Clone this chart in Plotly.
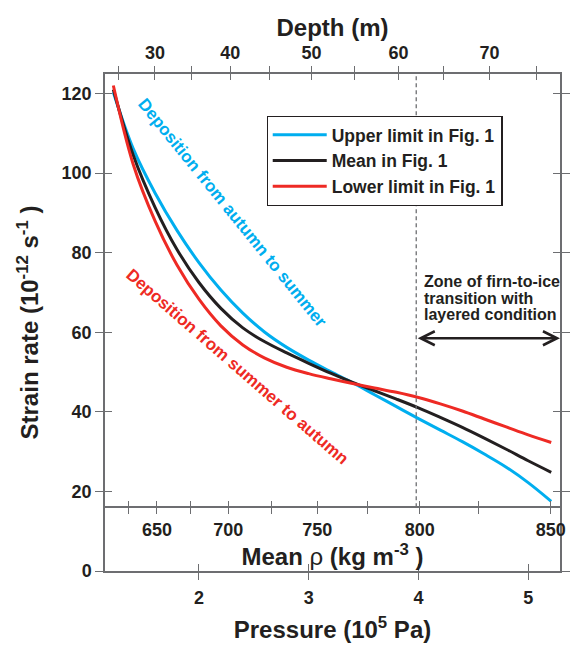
import plotly.graph_objects as go

# ---------------- data ----------------
pressure = [1.22, 1.40, 1.60, 1.80, 2.00, 2.20, 2.40, 2.60, 2.80, 3.00, 3.20,
            3.40, 3.60, 3.80, 4.00, 4.20, 4.40, 4.60, 4.80, 5.00, 5.21]
upper = [120.3, 106.2, 95.0, 85.6, 77.5, 70.6, 64.8, 60.0, 56.2, 53.0, 50.1,
         47.3, 44.3, 41.3, 38.3, 35.4, 32.5, 29.4, 26.1, 22.2, 17.5]
mean = [121.0, 104.6, 91.4, 80.8, 72.5, 66.0, 61.1, 57.6, 54.8, 52.2, 49.7,
        47.4, 45.3, 43.2, 41.0, 38.6, 36.1, 33.4, 30.6, 27.7, 24.8]
lower = [122.0, 102.3, 88.0, 76.9, 68.3, 61.6, 56.8, 53.5, 51.2, 49.6, 48.3,
         47.1, 46.0, 44.9, 43.6, 42.0, 40.2, 38.2, 36.2, 34.2, 32.3]

series_names = ["Upper limit in Fig. 1", "Mean in Fig. 1", "Lower limit in Fig. 1"]
series_colors = ["#00aeef", "#231f20", "#ee2a24"]

pressure_ticks = [2, 3, 4, 5]
strain_ticks = [0, 20, 40, 60, 80, 100, 120]

# secondary scales: depth (m) and mean density (kg m-3) expressed at pressure (1e5 Pa)
depth_ticks = [25, 30, 35, 40, 45, 50, 55, 60, 65, 70, 75]
depth_at_pressure = [1.269, 1.599, 1.929, 2.285, 2.642, 3.025, 3.417, 3.818, 4.228, 4.647, 5.075]
density_ticks = [625, 650, 675, 700, 725, 750, 775, 800, 825, 850]
density_at_pressure = [1.358, 1.617, 1.920, 2.267, 2.660, 3.078, 3.533, 4.012, 4.549, 5.206]

transition_pressure = 3.98   # start of firn-to-ice transition zone
arrow_level = 58.5

x_range = [1.144, 5.29]
y_range = [0, 124.9]
density_axis_level = 16.0

depth_labels = [str(d) if d % 10 == 0 else "" for d in depth_ticks]
density_labels = [str(d) if d % 50 == 0 else "" for d in density_ticks]

# ---------------- figure ----------------
fig = go.Figure()
for name, vals, col in zip(series_names, [upper, mean, lower], series_colors):
    fig.add_trace(go.Scatter(x=pressure, y=vals, mode="lines", name=name,
                             legendgroup="curves",
                             line=dict(color=col, width=3, shape="spline", smoothing=1.0)))

axcol = "#6d6e71"
txtcol = "#231f20"
FONT = "Liberation Sans, Arial, sans-serif"

common = dict(showgrid=False, zeroline=False, tickcolor=axcol, tickwidth=1.3)

fig.update_layout(
    width=577, height=646,
    margin=dict(l=105, r=7, t=74, b=74),
    plot_bgcolor="white", paper_bgcolor="white",
    font=dict(family=FONT, size=18, color=txtcol, weight="bold"),
    showlegend=True,
    legend=dict(x=0.355, y=0.916, xanchor="left", yanchor="top",
                bordercolor=txtcol, borderwidth=1.2, bgcolor="white",
                font=dict(size=17.5, color=txtcol, weight="bold"),
                tracegroupgap=0, itemwidth=54),
    xaxis=dict(range=x_range, tickmode="array", tickvals=pressure_ticks,
               ticks="outside", ticklen=7, showline=True, linecolor=axcol, linewidth=1.5,
               ticklabelstandoff=3,
               title=dict(text="Pressure (10<sup>5</sup> Pa)", font=dict(size=24), standoff=14),
               **common),
    xaxis6=dict(range=x_range, overlaying="x", anchor="y", side="bottom",
                tickmode="array", tickvals=pressure_ticks, ticks="inside", ticklen=7,
                showticklabels=False, showline=False, **common),
    xaxis2=dict(range=x_range, overlaying="x", anchor="y", side="top",
                tickmode="array", tickvals=depth_at_pressure, ticktext=depth_labels,
                ticks="outside", ticklen=6, showline=True, linecolor=axcol, linewidth=1.5,
                title=dict(text="Depth (m)", font=dict(size=24), standoff=0),
                **common),
    xaxis5=dict(range=x_range, overlaying="x", anchor="y", side="top",
                tickmode="array", tickvals=depth_at_pressure, ticks="inside", ticklen=6,
                showticklabels=False, showline=False, **common),
    xaxis3=dict(range=x_range, overlaying="x", anchor="free",
                position=density_axis_level / y_range[1], side="bottom",
                tickmode="array", tickvals=density_at_pressure, ticktext=density_labels,
                ticks="outside", ticklen=6, showline=True, linecolor=axcol, linewidth=1.5,
                title=dict(text="Mean <span style='font-weight:normal'>ρ</span> (kg m<sup>-3</sup> )",
                           font=dict(size=24), standoff=4),
                **common),
    xaxis4=dict(range=x_range, overlaying="x", anchor="free",
                position=density_axis_level / y_range[1], side="bottom",
                tickmode="array", tickvals=density_at_pressure, ticks="inside", ticklen=6,
                showticklabels=False, showline=False, **common),
    yaxis=dict(range=y_range, tickmode="array", tickvals=strain_ticks,
               ticks="outside", ticklen=8, showline=True, mirror="allticks",
               linecolor=axcol, linewidth=1.5,
               title=dict(text="Strain rate (10<sup>-12</sup> s<sup>-1</sup> )",
                          font=dict(size=24), standoff=16),
               **common),
    yaxis2=dict(range=y_range, overlaying="y", tickmode="array", tickvals=strain_ticks,
                ticks="inside", ticklen=7, mirror="allticks", showticklabels=False,
                showline=False, **common),
)

# make the overlay axes exist (invisible helper traces)
for xa in ["x2", "x3", "x4", "x5", "x6"]:
    fig.add_trace(go.Scatter(x=[None], y=[None], xaxis=xa, yaxis="y", showlegend=False,
                             hoverinfo="skip"))
fig.add_trace(go.Scatter(x=[None], y=[None], xaxis="x", yaxis="y2", showlegend=False,
                         hoverinfo="skip"))

# dashed boundary of the transition zone
fig.add_shape(type="line", xref="x", yref="y", x0=transition_pressure, x1=transition_pressure,
              y0=density_axis_level, y1=y_range[1],
              line=dict(color=axcol, width=1.3, dash="4px,3px"))

# double arrow
fig.add_annotation(x=x_range[1], y=arrow_level, ax=transition_pressure, ay=arrow_level,
                   xref="x", yref="y", axref="x", ayref="y", text="", showarrow=True,
                   arrowside="end+start", arrowhead=5, startarrowhead=5,
                   arrowsize=1.1, startarrowsize=1.1, arrowwidth=2.5, arrowcolor=txtcol)

zone_lines = ["Zone of firn-to-ice", "transition with", "layered condition"]
zone_levels = [72.7, 68.6, 64.4]
for t, yy in zip(zone_lines, zone_levels):
    fig.add_annotation(x=transition_pressure, y=yy, xref="x", yref="y", text=t,
                       showarrow=False, xanchor="left", yanchor="middle", xshift=6,
                       font=dict(size=16, color=txtcol, weight="bold"))

fig.add_annotation(x=2.300, y=90.0, xref="x", yref="y", text="Deposition from autumn to summer",
                   showarrow=False, textangle=51,
                   font=dict(size=17, color=series_colors[0], weight="bold"))
fig.add_annotation(x=2.345, y=51.3, xref="x", yref="y", text="Deposition from summer to autumn",
                   showarrow=False, textangle=41,
                   font=dict(size=17, color=series_colors[2], weight="bold"))

fig.write_html("out.html")
